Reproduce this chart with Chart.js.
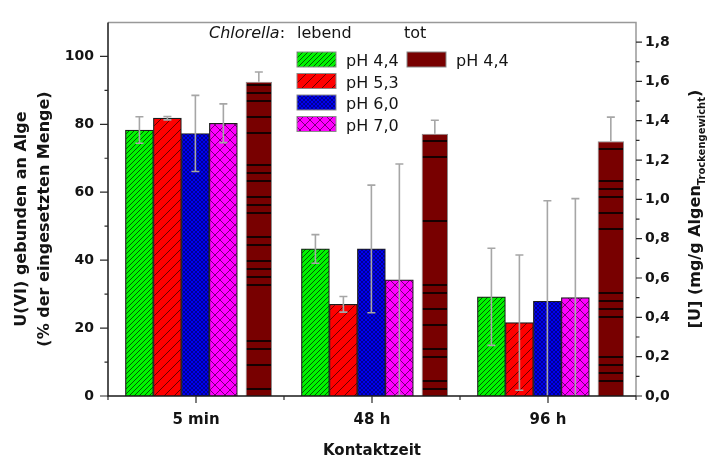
<!DOCTYPE html>
<html lang="de">
<head>
<meta charset="utf-8">
<title>U(VI)-Bindung an Chlorella</title>
<script src="https://cdn.jsdelivr.net/npm/chart.js@4.4.1/dist/chart.umd.min.js"></script>
<style>
  html, body { margin: 0; padding: 0; background: #fff; }
  #wrap { width: 712px; height: 462px; }
</style>
</head>
<body>
<div id="wrap"><canvas id="chart" width="712" height="462"></canvas></div>
<script>
// ---- data -------------------------------------------------------------
const categories = ['5 min', '48 h', '96 h'];
const livingLabels = ['pH 4,4', 'pH 5,3', 'pH 6,0', 'pH 7,0'];
const deadLabel = 'pH 4,4';

// living Chlorella, % of the added uranium bound (mean, +/- error)
const ph44Living    = [78.3, 43.3, 29.2];
const ph44LivingErr = [3.9, 4.2, 14.3];
const ph53Living    = [81.8, 27.0, 21.6];
const ph53LivingErr = [0.5, 2.3, 19.9];
const ph60Living    = [77.3, 43.3, 27.9];
const ph60LivingErr = [11.2, 18.8, 29.6];
const ph70Living    = [80.3, 34.2, 29.0];
const ph70LivingErr = [5.7, 34.1, 29.1];

// dead Chlorella, pH 4,4
const ph44Dead    = [92.5, 77.2, 75.0];
const ph44DeadErr = [2.9, 4.0, 7.1];

// axis ranges
const leftAxis  = { min: 0, max: 110, step: 20 };
const rightAxis = { min: 0, max: 1.9, step: 0.2 };

// ---- layout / style constants ----------------------------------------
const LIVING_SHIFT = -0.083;   // centre of the living group, in category units
const LIVING_STEP  = 0.159;    // distance between neighbouring living bars
const DEAD_SHIFT   = 0.357;    // centre of the dead bar, in category units
const FONT = "'DejaVu Sans', sans-serif";
const INK = '#141414';

// stripe rows (8 px grid) used as texture of the dead-cell bars
const deadStripeRows = [
  [10, 11, 12, 14, 16, 20, 21, 22, 24, 25, 26, 29, 30, 32, 33, 34, 35, 42, 43, 45, 48],
  [16, 17, 19, 27, 35, 36, 38, 40, 43, 44, 47, 48],
  [18, 22, 23, 24, 26, 28, 36, 37, 38, 39, 44, 45, 46, 47]
];

// ---- fill patterns ----------------------------------------------------
const patCtx = document.createElement('canvas').getContext('2d');

function hatchPattern(bg, size, ink, width, forward, backward) {
  const c = document.createElement('canvas');
  c.width = size; c.height = size;
  const g = c.getContext('2d');
  g.fillStyle = bg;
  g.fillRect(0, 0, size, size);
  g.strokeStyle = ink;
  g.lineWidth = width;
  g.beginPath();
  const s = size;
  if (forward) {            // "/"
    g.moveTo(0, s); g.lineTo(s, 0);
    g.moveTo(-s / 2, s / 2); g.lineTo(s / 2, -s / 2);
    g.moveTo(s / 2, s * 1.5); g.lineTo(s * 1.5, s / 2);
  }
  if (backward) {           // "\"
    g.moveTo(0, 0); g.lineTo(s, s);
    g.moveTo(-s / 2, s / 2); g.lineTo(s / 2, s * 1.5);
    g.moveTo(s / 2, -s / 2); g.lineTo(s * 1.5, s / 2);
  }
  g.stroke();
  return patCtx.createPattern(c, 'repeat');
}

function stripePattern(bg, rows) {
  const c = document.createElement('canvas');
  c.width = 8; c.height = 464;
  const g = c.getContext('2d');
  g.fillStyle = bg;
  g.fillRect(0, 0, c.width, c.height);
  g.fillStyle = '#000';
  rows.forEach(k => g.fillRect(0, 5 + 8 * k - 0.8, c.width, 1.6));
  return patCtx.createPattern(c, 'repeat');
}

const DEAD_RED = '#780000';
const fills = {
  green:   hatchPattern('#00f400', 5, 'rgba(0,0,0,0.7)', 0.9, true, false),
  red:     hatchPattern('#ff0000', 10, 'rgba(0,0,0,0.65)', 0.9, true, false),
  blue:    hatchPattern('#0000f0', 4, 'rgba(0,0,30,0.55)', 0.8, true, true),
  magenta: hatchPattern('#ff00ff', 10, 'rgba(50,0,50,0.75)', 0.9, true, true),
  dead:    deadStripeRows.map(r => stripePattern(DEAD_RED, r))
};

const toPoints = (values, shift) => values.map((v, i) => ({ x: i + shift, y: v }));

function livingSet(slot, values, errors, fill) {
  const shift = LIVING_SHIFT + (slot - (livingLabels.length - 1) / 2) * LIVING_STEP;
  return {
    label: livingLabels[slot], data: toPoints(values, shift), errors,
    xAxisID: 'xl', yAxisID: 'y', grouped: false,
    backgroundColor: fill, borderColor: '#1c1c1c', borderWidth: 1.2,
    categoryPercentage: 1.0, barPercentage: 1.0,
    legendFill: fill
  };
}

const datasets = [
  livingSet(0, ph44Living, ph44LivingErr, fills.green),
  livingSet(1, ph53Living, ph53LivingErr, fills.red),
  livingSet(2, ph60Living, ph60LivingErr, fills.blue),
  livingSet(3, ph70Living, ph70LivingErr, fills.magenta),
  {
    label: deadLabel, data: toPoints(ph44Dead, DEAD_SHIFT), errors: ph44DeadErr,
    upperOnly: true,
    xAxisID: 'xt', yAxisID: 'y', grouped: false,
    backgroundColor: ctx => fills.dead[ctx.dataIndex] || DEAD_RED,
    borderColor: '#8c8c8c', borderWidth: 1,
    categoryPercentage: 0.15, barPercentage: 1.0,
    legendFill: DEAD_RED
  }
];

// ---- hidden positioning axes -------------------------------------------
const integerTicks = scale => { scale.ticks = categories.map((_, i) => ({ value: i })); };
const hiddenX = () => ({
  type: 'linear', display: false, offset: false,
  min: -0.5, max: categories.length - 0.5,
  afterBuildTicks: integerTicks
});

// ---- drawing helpers -----------------------------------------------------
const decorations = {
  id: 'decorations',
  afterDatasetsDraw(chart) {
    const { ctx, chartArea: a } = chart;
    ctx.save();
    ctx.beginPath();
    ctx.rect(a.left, a.top, a.right - a.left, a.bottom - a.top);
    ctx.clip();
    // error bars
    chart.data.datasets.forEach((ds, di) => {
      const meta = chart.getDatasetMeta(di);
      const ys = chart.scales[meta.yAxisID];
      meta.data.forEach((bar, i) => {
        const v = ds.data[i].y, e = ds.errors[i];
        const x = bar.x;
        const yTop = ys.getPixelForValue(v + e);
        const yBot = ds.upperOnly ? ys.getPixelForValue(v) : ys.getPixelForValue(v - e);
        ctx.strokeStyle = '#a6a6a6';
        ctx.lineWidth = 1.6;
        ctx.beginPath();
        ctx.moveTo(x, yTop); ctx.lineTo(x, yBot);
        ctx.moveTo(x - 4, yTop); ctx.lineTo(x + 4, yTop);
        if (!ds.upperOnly) { ctx.moveTo(x - 4, yBot); ctx.lineTo(x + 4, yBot); }
        ctx.stroke();
      });
    });
    ctx.restore();
  },
  afterDraw(chart) {
    const { ctx, chartArea: a, scales } = chart;
    ctx.save();
    // frame
    ctx.lineWidth = 1.5;
    ctx.strokeStyle = '#999';
    ctx.beginPath();
    ctx.moveTo(a.left, a.top); ctx.lineTo(a.right, a.top); ctx.lineTo(a.right, a.bottom);
    ctx.stroke();
    ctx.strokeStyle = '#1a1a1a';
    ctx.beginPath();
    ctx.moveTo(a.left, a.top); ctx.lineTo(a.left, a.bottom); ctx.lineTo(a.right, a.bottom);
    ctx.stroke();

    // tick marks
    ctx.strokeStyle = '#2a2a2a';
    ctx.lineWidth = 1.2;
    ctx.beginPath();
    const yl = scales.y;
    for (let v = leftAxis.min; v < leftAxis.max; v += leftAxis.step / 2) {
      const p = yl.getPixelForValue(v);
      const major = Math.abs(v % leftAxis.step) < 1e-6;
      ctx.moveTo(a.left, p); ctx.lineTo(a.left - (major ? 8 : 3.5), p);
    }
    const yr = scales.y1;
    for (let k = 0; k * rightAxis.step / 2 < rightAxis.max - 1e-6; k++) {
      const v = k * rightAxis.step / 2;
      const p = yr.getPixelForValue(v);
      ctx.moveTo(a.right, p); ctx.lineTo(a.right + (k % 2 === 0 ? 6 : 3.5), p);
    }
    const xs = scales.x;
    categories.forEach((_, i) => {
      const p = xs.getPixelForValue(i);
      ctx.moveTo(p, a.bottom); ctx.lineTo(p, a.bottom + 7);
    });
    for (let i = 0; i <= categories.length; i++) {
      const p = xs.getPixelForValue(i - 0.5);
      ctx.moveTo(p, a.bottom); ctx.lineTo(p, a.bottom + 4);
    }
    ctx.stroke();

    ctx.fillStyle = INK;
    ctx.textBaseline = 'middle';
    ctx.textAlign = 'center';

    // x title
    ctx.font = `bold 15px ${FONT}`;
    ctx.fillText('Kontaktzeit', (a.left + a.right) / 2, 451);

    // left title (two lines)
    ctx.save();
    ctx.translate(22, 219);
    ctx.rotate(-Math.PI / 2);
    ctx.font = `bold 16px ${FONT}`;
    ctx.fillText('U(VI) gebunden an Alge', 0, 0);
    ctx.fillText('(% der eingesetzten Menge)', 0, 23);
    ctx.restore();

    // right title with subscript
    ctx.save();
    ctx.translate(696, 209);
    ctx.rotate(-Math.PI / 2);
    ctx.textAlign = 'left';
    const mainFont = `bold 16px ${FONT}`, subFont = `bold 10px ${FONT}`;
    const parts = [
      { t: '[U] (mg/g Algen', f: mainFont, dy: 0 },
      { t: 'Trockengewicht', f: subFont, dy: 6 },
      { t: ')', f: mainFont, dy: 0 }
    ];
    let total = 0;
    parts.forEach(p => { ctx.font = p.f; p.w = ctx.measureText(p.t).width; total += p.w; });
    let px = -total / 2;
    parts.forEach(p => { ctx.font = p.f; ctx.fillText(p.t, px, p.dy); px += p.w; });
    ctx.restore();

    // legend
    ctx.textAlign = 'left';
    ctx.textBaseline = 'alphabetic';
    ctx.font = `italic 16px ${FONT}`;
    ctx.fillText('Chlorella', 209, 38);
    const wItal = ctx.measureText('Chlorella').width;
    ctx.font = `16px ${FONT}`;
    ctx.fillText(':', 209 + wItal, 38);
    ctx.fillText('lebend', 297, 38);
    ctx.fillText('tot', 404, 38);

    const rowTop = [52, 73.5, 95, 116.5];
    const living = chart.data.datasets.slice(0, 4);
    living.forEach((ds, i) => {
      ctx.fillStyle = ds.legendFill;
      ctx.fillRect(297, rowTop[i], 39, 15);
      ctx.strokeStyle = '#8a8a8a';
      ctx.lineWidth = 1;
      ctx.strokeRect(297, rowTop[i], 39, 15);
      ctx.fillStyle = INK;
      ctx.fillText(ds.label, 346, rowTop[i] + 14);
    });
    const dead = chart.data.datasets[4];
    ctx.fillStyle = dead.legendFill;
    ctx.fillRect(407, rowTop[0], 39, 15);
    ctx.strokeStyle = '#8a8a8a';
    ctx.strokeRect(407, rowTop[0], 39, 15);
    ctx.fillStyle = INK;
    ctx.fillText(dead.label, 456, rowTop[0] + 14);
    ctx.restore();
  }
};

Chart.defaults.font.family = FONT;
Chart.defaults.color = INK;

new Chart(document.getElementById('chart'), {
  type: 'bar',
  data: { labels: categories, datasets },
  options: {
    responsive: false,
    animation: false,
    devicePixelRatio: 1,
    layout: { padding: { top: 6, left: 0, right: 0, bottom: 0 } },
    plugins: { legend: { display: false }, tooltip: { enabled: false } },
    scales: {
      x: {
        type: 'category', position: 'bottom', offset: true,
        grid: { display: false, drawTicks: false },
        border: { display: false },
        ticks: { font: { size: 15, weight: 'bold' }, padding: 15, color: INK, maxRotation: 0 },
        afterFit: s => { s.height = 66; }
      },
      xl: hiddenX(),
      xt: hiddenX(),
      y: {
        type: 'linear', position: 'left',
        min: leftAxis.min, max: leftAxis.max,
        grid: { display: false, drawTicks: false },
        border: { display: false },
        ticks: { stepSize: leftAxis.step, includeBounds: false, padding: 14,
                 font: { size: 14, weight: 'bold' }, color: INK },
        afterFit: s => { s.width = 108; }
      },
      y1: {
        type: 'linear', position: 'right',
        min: rightAxis.min, max: rightAxis.max,
        grid: { display: false, drawTicks: false },
        border: { display: false },
        ticks: { stepSize: rightAxis.step, includeBounds: false, padding: 9,
                 font: { size: 14, weight: 'bold' }, color: INK,
                 callback: v => v.toFixed(1).replace('.', ',') },
        afterFit: s => { s.width = 76; }
      }
    }
  },
  plugins: [decorations]
});
</script>
</body>
</html>
